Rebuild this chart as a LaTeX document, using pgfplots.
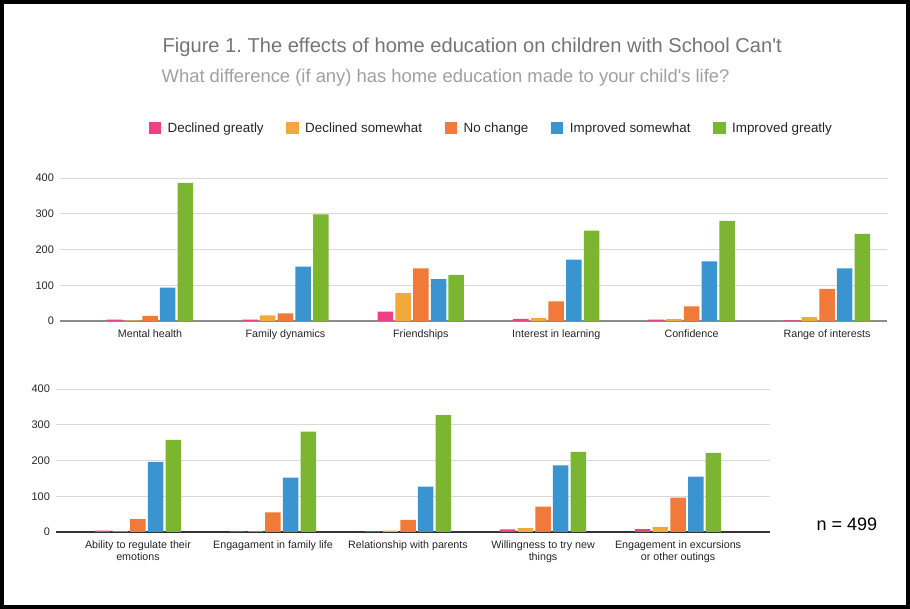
\documentclass[border=0pt]{standalone}
\usepackage{fontspec}
\setmainfont{Liberation Sans}
\usepackage{pgfplots}
\usepackage{pgfplotstable}
\pgfplotsset{compat=1.18}
\frenchspacing

\definecolor{cDG}{HTML}{EE4082}
\definecolor{cDS}{HTML}{F2A93B}
\definecolor{cNC}{HTML}{F07A3A}
\definecolor{cIS}{HTML}{3A94CF}
\definecolor{cIG}{HTML}{7CB530}
\definecolor{gridc}{HTML}{D9D9D9}
\definecolor{titlec}{HTML}{757575}
\definecolor{subc}{HTML}{A0A0A0}

\pgfplotstableread{
x dg ds nc is ig
0 4 2 14 93 386
1 4 16 21 152 298
2 26 78 147 117 129
3 6 8 55 172 253
4 4 5 41 167 280
5 2 11 90 147 244
}\toptable

\pgfplotstableread{
x dg ds nc is ig
0 4 2 36 196 258
1 2 2 55 152 281
2 2 4 34 127 327
3 7 11 71 186 224
4 8 14 96 155 221
}\bottable

\pgfplotsset{
  mybars/.style={
    ybar=2.2pt, bar width=15.5pt,
    scale only axis,
    ymin=0, ymax=400, ytick={0,100,200,300,400},
    ymajorgrids, major grid style={gridc, line width=0.9pt},
    axis line style={draw=none},
    major tick length=0pt,
    xtick={0,...,5},
    /pgf/number format/assume math mode=true,
    yticklabel style={font=\fontsize{11}{12}\selectfont, text=black!85, xshift=-2.5pt},
    xticklabel style={font=\fontsize{10.7}{12}\selectfont, text=black!85, align=center, yshift=-5.5pt},
    every axis plot/.append style={draw=none},
    extra y ticks={0}, extra y tick labels={},
  }
}

\begin{document}
\begin{tikzpicture}
\fill[white] (0pt,0pt) rectangle (910pt,609pt);
\draw[black, line width=4pt] (2pt,2pt) rectangle (908pt,607pt);

\node[anchor=base west, inner sep=0pt, text=titlec, font=\fontsize{20.1}{24}\selectfont] at (162.5pt,556.3pt) {Figure 1. The effects of home education on children with School Can\textquotesingle t};
\node[anchor=base west, inner sep=0pt, text=subc, font=\fontsize{18.4}{22}\selectfont] at (161.5pt,526.7pt) {What difference (if any) has home education made to your child\textquotesingle s life?};

\begin{axis}[mybars,
  at={(60pt,288pt)}, anchor=south west,
  width=827pt, height=143pt,
  xmin=-0.665, xmax=5.443,
  xticklabels={Mental health, Family dynamics, Friendships, Interest in learning, Confidence, Range of interests},
  extra y tick style={major grid style={draw=black!45, line width=1.2pt}},
  legend columns=5,
  legend style={draw=none, fill=none, at={(0.5215,1.35)}, anchor=center,
    font=\fontsize{13.4}{16}\selectfont, text=black!85,
    /tikz/every even column/.append style={column sep=20.5pt}},
  legend image code/.code={\path (0pt,0pt) -- (17pt,0pt); \fill[#1] (0pt,-6pt) rectangle (12.5pt,6pt);},
]
\addplot[fill=cDG] table[x=x,y=dg]{\toptable};
\addplot[fill=cDS] table[x=x,y=ds]{\toptable};
\addplot[fill=cNC] table[x=x,y=nc]{\toptable};
\addplot[fill=cIS] table[x=x,y=is]{\toptable};
\addplot[fill=cIG] table[x=x,y=ig]{\toptable};
\legend{Declined greatly, Declined somewhat, No change, Improved somewhat, Improved greatly}
\end{axis}

\begin{axis}[mybars,
  at={(56pt,77pt)}, anchor=south west,
  width=714pt, height=143pt,
  xmin=-0.607, xmax=4.681,
  xtick={0,...,4},
  xticklabels={{Ability to regulate their\\emotions}, {Engagament in family life}, {Relationship with parents}, {Willingness to try new\\things}, {Engagement in excursions\\or other outings}},
  extra y tick style={major grid style={draw=black!80, line width=1.2pt}},
]
\addplot[fill=cDG] table[x=x,y=dg]{\bottable};
\addplot[fill=cDS] table[x=x,y=ds]{\bottable};
\addplot[fill=cNC] table[x=x,y=nc]{\bottable};
\addplot[fill=cIS] table[x=x,y=is]{\bottable};
\addplot[fill=cIG] table[x=x,y=ig]{\bottable};
\end{axis}

\node[anchor=base west, font=\fontsize{18}{20}\selectfont] at (813pt,78pt) {n = 499};
\end{tikzpicture}
\end{document}
